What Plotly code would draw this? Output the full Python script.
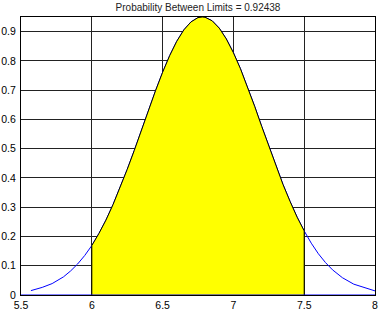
import plotly.graph_objects as go

# Values
x_vals = [5.57, 5.65, 5.72, 5.80, 5.85, 5.90, 5.95, 6.00, 6.05, 6.10, 6.15, 6.20, 6.25,
          6.30, 6.35, 6.40, 6.45, 6.50, 6.55, 6.60, 6.65, 6.70, 6.75, 6.78, 6.80, 6.85,
          6.90, 6.95, 7.00, 7.05, 7.10, 7.15, 7.20, 7.25, 7.30, 7.35, 7.40, 7.45, 7.50,
          7.55, 7.60, 7.65, 7.70, 7.77, 7.85, 8.00]
pdf_vals = [0.015, 0.026, 0.039, 0.062, 0.082, 0.106, 0.135, 0.169, 0.210, 0.256, 0.309,
            0.366, 0.429, 0.494, 0.563, 0.631, 0.698, 0.761, 0.818, 0.867, 0.906, 0.933,
            0.948, 0.950, 0.949, 0.937, 0.912, 0.875, 0.828, 0.773, 0.711, 0.645, 0.576,
            0.508, 0.442, 0.378, 0.320, 0.266, 0.219, 0.177, 0.141, 0.111, 0.086, 0.059,
            0.037, 0.014]
lower_limit = 6.0
upper_limit = 7.5
prob_between = 0.92438
x_ticks = [5.5, 6, 6.5, 7, 7.5, 8]
x_tick_text = ["5.5", "6", "6.5", "7", "7.5", "8"]
y_ticks = [0, 0.1, 0.2, 0.3, 0.4, 0.5, 0.6, 0.7, 0.8, 0.9]
y_tick_text = ["0", "0.1", "0.2", "0.3", "0.4", "0.5", "0.6", "0.7", "0.8", "0.9"]

sel = [(x, y) for x, y in zip(x_vals, pdf_vals) if lower_limit <= x <= upper_limit]
sx = [p[0] for p in sel]
sy = [p[1] for p in sel]

fig = go.Figure()
# full curve (blue)
fig.add_trace(go.Scatter(x=x_vals, y=pdf_vals, mode="lines",
                         line=dict(color="#0000ff", width=1), hoverinfo="skip"))
# yellow filled region
fig.add_trace(go.Scatter(x=[lower_limit] + sx + [upper_limit],
                         y=[0] + sy + [0], mode="lines", fill="toself",
                         fillcolor="#ffff00", line=dict(color="black", width=1),
                         hoverinfo="skip"))
# baseline
fig.add_trace(go.Scatter(x=[x_ticks[0], x_ticks[-1]], y=[0, 0], mode="lines",
                         line=dict(color="#0000ff", width=1), hoverinfo="skip"))

fig.update_layout(
    width=384, height=310,
    margin=dict(l=21, r=9, t=17, b=15, autoexpand=False),
    paper_bgcolor="white", plot_bgcolor="white",
    showlegend=False,
    font=dict(family="Arial, Liberation Sans, sans-serif", size=10.5, color="black"),
    title=dict(text=f"Probability Between Limits = {prob_between}",
               x=0.5, xref="paper", y=1, yref="container", yanchor="top",
               pad=dict(t=3.5), font=dict(size=10, color="#222222")),
)
fig.update_xaxes(range=[5.5, 8], tickvals=x_ticks, ticktext=x_tick_text,
                 showgrid=True, gridcolor="#222222", gridwidth=1,
                 showline=True, linecolor="black", linewidth=1, mirror=True,
                 zeroline=False, ticks="", ticklabelstandoff=0, automargin=False)
fig.update_yaxes(range=[0, 0.95], tickvals=y_ticks, ticktext=y_tick_text,
                 showgrid=True, gridcolor="#222222", gridwidth=1,
                 showline=True, linecolor="black", linewidth=1, mirror=True,
                 zeroline=False, ticks="", ticklabelstandoff=2, automargin=False)

fig.write_html("out.html", config={"displayModeBar": False},
               post_script="document.body.style.margin='0';document.body.style.padding='0';")
